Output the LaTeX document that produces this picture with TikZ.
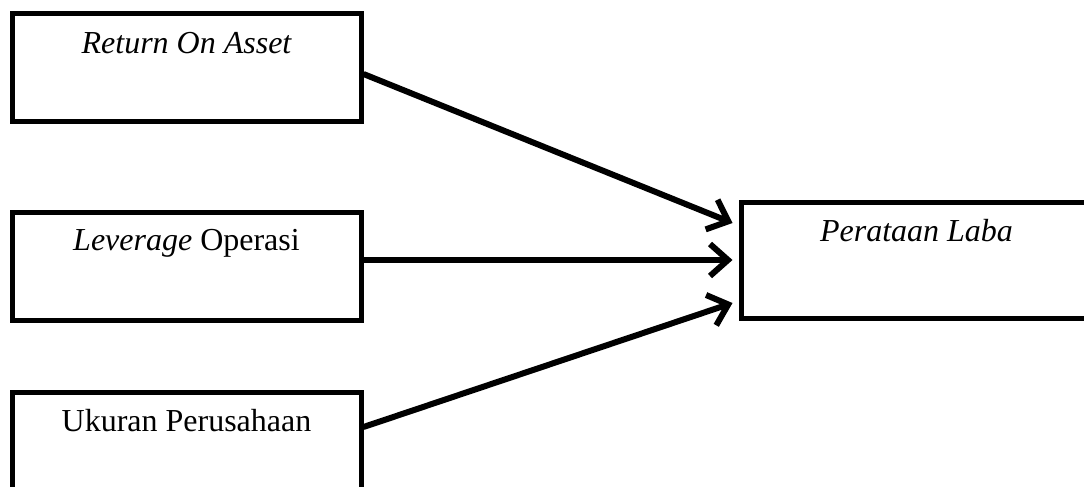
\documentclass[tikz,border=0pt]{standalone}
\usepackage{fontspec}
\setmainfont{Liberation Serif}
\usetikzlibrary{arrows.meta}
\begin{document}
\begin{tikzpicture}[x=1pt,y=-1pt,
  box/.style={draw=black, line width=5pt, rectangle, inner sep=0pt, minimum width=349pt},
  txt/.style={anchor=base, inner sep=0pt, font=\fontsize{32}{38}\selectfont},
  conn/.style={line width=6pt, -{Straight Barb[length=18pt,width=32pt]}}]
\useasboundingbox (0,0) rectangle (1084,487);
\node[box, minimum height=107pt] (b1) at (186.5,67.5) {};
\node[box, minimum height=108pt] (b2) at (186.5,266) {};
\node[box, minimum height=108pt] (b3) at (186.5,446) {};
\node[box, minimum width=351pt, minimum height=116pt] (b4) at (916.5,260) {};
\node[txt] (t1) at ([yshift=-42pt]b1.north) {\itshape Return On Asset};
\node[txt] (t2) at ([yshift=-41pt]b2.north) {\itshape Leverage\upshape{} Operasi};
\node[txt] (t3) at ([yshift=-42pt]b3.north) {Ukuran Perusahaan};
\node[txt] (t4) at ([yshift=-42pt]b4.north) {\itshape Perataan Laba};
\draw[conn] ([yshift=-6.5pt]b1.east) -- ([xshift=-6pt,yshift=37pt]b4.west);
\draw[conn] ([yshift=6pt]b2.east) -- ([xshift=-6pt]b4.west);
\draw[conn] ([yshift=19pt]b3.east) -- ([xshift=-6pt,yshift=-43pt]b4.west);
\end{tikzpicture}
\end{document}
